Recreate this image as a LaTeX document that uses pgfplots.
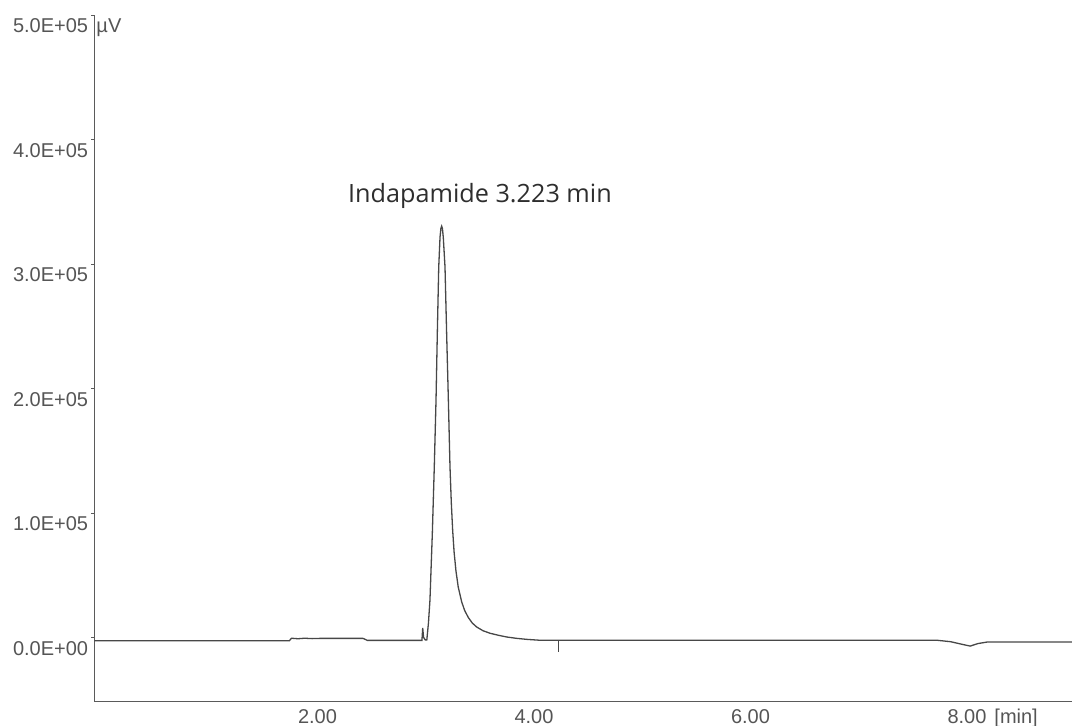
\documentclass[border=0pt]{standalone}
\usepackage{fontspec}
\setmainfont{Liberation Sans}
\newfontfamily\osans{Open Sans}
\usepackage{pgfplots}
\pgfplotsset{compat=1.18}
\definecolor{trace}{HTML}{474747}
\definecolor{axisgray}{HTML}{5A5A5A}
\definecolor{labgray}{HTML}{555555}
\definecolor{annot}{HTML}{2E2E2E}
\begin{document}
\begin{tikzpicture}
\path[use as bounding box] (0,0) rectangle (536pt,363pt);
\begin{axis}[
  at={(47.25pt,12.15pt)}, anchor=south west,
  scale only axis, width=488.75pt, height=343.35pt,
  xmin=-0.06, xmax=8.97,
  ymin=-51165, ymax=500400,
  axis x line=bottom, axis y line=left,
  axis line style={-, draw=axisgray, line width=0.7pt},
  every outer x axis line/.append style={-},
  every outer y axis line/.append style={-},
  scaled y ticks=false, scaled x ticks=false,
  xtick={2,4,6,8},
  xticklabels={2.00,4.00,6.00,{8.00\rlap{\hspace{4pt}[min]}}},
  ytick={0,100000,200000,300000,400000,500000},
  yticklabels={0.0E+00,1.0E+05,2.0E+05,3.0E+05,4.0E+05,5.0E+05},
  tick align=outside,
  ytick style={draw=axisgray, line width=0.5pt},
  major tick length=1.5pt,
  xtick style={draw=none},
  tick label style={font=\fontsize{10}{12}\selectfont, text=labgray},
  yticklabel style={anchor=north east, inner sep=0pt, xshift=-1.5pt, yshift=-1.5pt},
  xticklabel style={anchor=north, inner sep=0pt, yshift=-2.2pt},
  clip=false,
]
\addplot[trace, line width=0.65pt] coordinates {
(-0.06,-2200) (1.74,-2200) (1.76,-200) (1.82,-600) (1.88,-200) (1.95,-500) (2.03,-300)
(2.42,-300) (2.46,-1900)
(2.965,-1900) (2.972,8000) (2.980,500) (2.995,-1500) (3.010,-1500)
(3.025,12000) (3.039,30500) (3.061,84300) (3.079,137600) (3.095,191200)
(3.107,245000) (3.120,298000) (3.132,322000) (3.140,329000) (3.147,330800) (3.154,329000)
(3.162,322000) (3.178,298000) (3.193,244700) (3.209,191200) (3.224,137600)
(3.236,109000) (3.249,86000) (3.262,69000) (3.279,54000) (3.300,41000) (3.332,29000)
(3.360,22000) (3.393,16500) (3.430,12000) (3.471,8800) (3.530,5800) (3.594,3800)
(3.670,2200) (3.748,800) (3.840,-300) (3.933,-1100) (4.05,-1800)
(7.72,-1800) (7.85,-3000) (7.95,-5000) (8.03,-6500) (8.10,-4500) (8.19,-3200) (8.97,-3200)
};
\addplot[trace, line width=0.6pt] coordinates {(4.224,-1800) (4.224,-11000)};
\node[font=\osans\fontsize{12.6}{14}\selectfont, text=annot, anchor=base] at (axis cs:3.501,349400) {Indapamide 3.223 min};
\node[font=\fontsize{10}{12}\selectfont, text=labgray, anchor=north west, inner sep=0pt, xshift=0.8pt, yshift=-1.5pt] at (rel axis cs:0,1) {µV};
\end{axis}
\end{tikzpicture}
\end{document}
